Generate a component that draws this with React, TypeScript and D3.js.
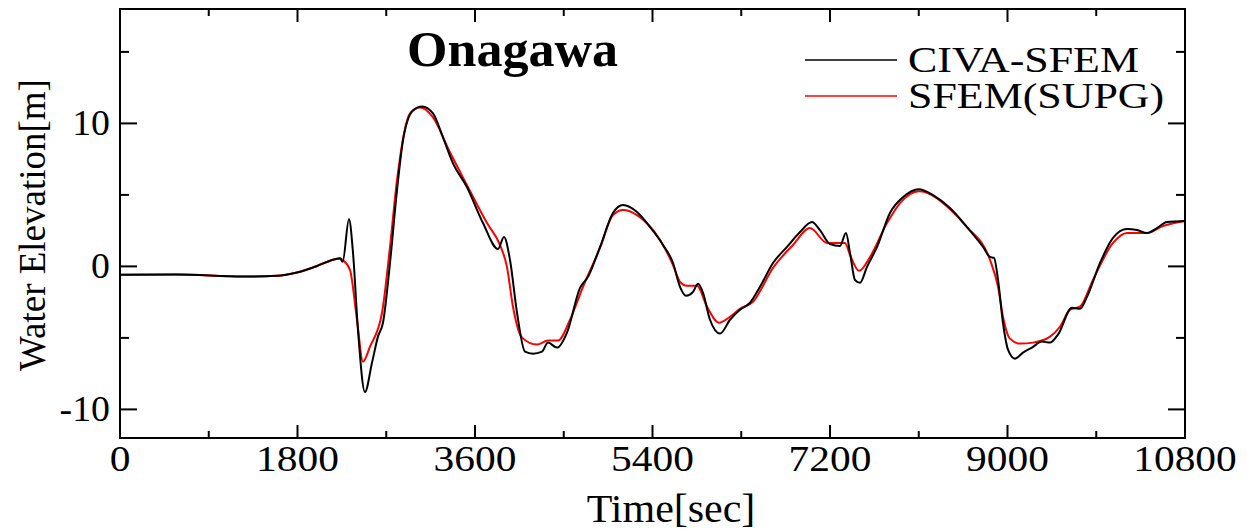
import * as d3 from "d3";

// CIVA-SFEM (black)
const civaTime = [0, 578, 1247, 1592, 1795, 1998, 2130, 2231, 2258, 2322, 2363, 2413, 2484, 2556, 2616, 2667, 2738, 2809, 2870, 2971, 3063, 3174, 3275, 3377, 3519, 3681, 3833, 3894, 3955, 4026, 4107, 4188, 4279, 4340, 4432, 4533, 4665, 4746, 4868, 4999, 5101, 5243, 5375, 5507, 5608, 5679, 5740, 5811, 5862, 5912, 5983, 6085, 6186, 6287, 6389, 6490, 6622, 6764, 6896, 7017, 7098, 7200, 7301, 7362, 7403, 7453, 7504, 7575, 7677, 7808, 7940, 8102, 8245, 8417, 8589, 8752, 8823, 8863, 8904, 8954, 9005, 9076, 9157, 9248, 9350, 9431, 9512, 9654, 9735, 9806, 9938, 10070, 10212, 10313, 10415, 10516, 10617, 10800];
const civaElev = [-0.58, -0.56, -0.71, -0.66, -0.43, 0.03, 0.4, 0.57, 0.33, 3.3, 0.94, -4.42, -8.78, -6.72, -4.91, -3.94, 0.24, 5.33, 8.82, 10.91, 11.19, 10.7, 9.02, 7.21, 5.54, 3.03, 1.22, 2.06, 0.45, -3.24, -5.96, -6.1, -5.96, -5.33, -5.68, -4.63, -1.5, -0.73, 1.36, 3.73, 4.29, 3.8, 2.75, 1.5, 0.24, -1.43, -2.06, -1.78, -1.22, -1.85, -3.73, -4.7, -3.73, -3.03, -2.54, -1.43, 0.24, 1.36, 2.4, 3.1, 2.54, 1.57, 1.43, 2.33, 0.94, -0.94, -1.15, -0.03, 1.36, 3.73, 4.84, 5.4, 4.98, 4.08, 2.75, 1.36, 0.66, 0.59, -0.94, -3.94, -5.82, -6.45, -6.03, -5.68, -5.26, -5.33, -4.77, -2.89, -2.96, -2.13, 0.24, 1.99, 2.61, 2.54, 2.33, 2.68, 3.1, 3.17];

// SFEM(SUPG) (red)
const supgTime = [0, 578, 1247, 1592, 1795, 1998, 2130, 2231, 2258, 2332, 2403, 2464, 2535, 2657, 2738, 2809, 2941, 3042, 3174, 3346, 3519, 3722, 3853, 3924, 3985, 4077, 4229, 4340, 4442, 4564, 4695, 4868, 4999, 5101, 5243, 5476, 5608, 5679, 5750, 5851, 5953, 6074, 6186, 6287, 6419, 6622, 6825, 6997, 7170, 7352, 7403, 7494, 7606, 7778, 7910, 8102, 8417, 8589, 8823, 8904, 8954, 9025, 9127, 9259, 9431, 9532, 9634, 9735, 9867, 10070, 10212, 10415, 10577, 10800];
const supgElev = [-0.58, -0.56, -0.71, -0.66, -0.43, 0.03, 0.4, 0.55, 0.45, -0.24, -3.73, -6.66, -5.61, -3.24, 1.36, 6.03, 10.7, 11.11, 10.42, 7.98, 5.68, 3.03, 1.5, -0.03, -2.82, -4.98, -5.47, -5.19, -5.19, -3.73, -1.43, 1.29, 3.59, 3.94, 3.59, 1.85, 0.1, -1.08, -1.36, -1.36, -2.82, -3.94, -3.52, -2.96, -2.47, -0.1, 1.5, 2.68, 1.64, 1.64, 0.8, -0.31, 0.66, 3.03, 4.43, 5.26, 4.0, 2.75, 0.45, -1.43, -3.52, -5.05, -5.4, -5.33, -4.91, -4.22, -3.03, -2.82, -0.94, 1.64, 2.33, 2.33, 2.82, 3.17];

const xTickValues = [0, 1800, 3600, 5400, 7200, 9000, 10800];
const yTickValues = [-10, 0, 10];
const seriesNames = ["CIVA-SFEM", "SFEM(SUPG)"];
const seriesColors = ["#000000", "#ff0000"];

const W = 1253;
const H = 530;
const box = { left: 120, right: 1185, top: 9, bottom: 438 };
const serif = "'Liberation Serif', 'Times New Roman', serif";

export default function App() {
  const x = d3.scaleLinear().domain([0, 10800]).range([box.left, box.right]);
  const y = d3.scaleLinear().domain([-12, 18]).range([box.bottom, box.top]);

  const line = d3
    .line<[number, number]>()
    .x((d) => x(d[0]))
    .y((d) => y(d[1]))
    .curve(d3.curveMonotoneX);

  const civa = civaTime.map((t, i) => [t, civaElev[i]] as [number, number]);
  const supg = supgTime.map((t, i) => [t, supgElev[i]] as [number, number]);

  const xMinor = d3.range(0, 10801, 900);
  const yMinor = d3.range(-10, 18, 5);

  return (
    <svg
      width={W}
      height={H}
      style={{ position: "absolute", left: 0, top: 0, background: "#fff" }}
    >
      <rect x={0} y={0} width={W} height={H} fill="#fff" />

      {/* data */}
      <path d={line(supg) || ""} fill="none" stroke={seriesColors[1]} strokeWidth={2} />
      <path d={line(civa) || ""} fill="none" stroke={seriesColors[0]} strokeWidth={2} />

      {/* frame */}
      <rect
        x={box.left}
        y={box.top}
        width={box.right - box.left}
        height={box.bottom - box.top}
        fill="none"
        stroke="#000"
        strokeWidth={2}
      />

      {/* x ticks */}
      {xMinor.map((t) => {
        const major = xTickValues.includes(t);
        const len = major ? 13 : 7;
        return (
          <g key={"xt" + t} stroke="#000" strokeWidth={2}>
            <line x1={x(t)} x2={x(t)} y1={box.bottom} y2={box.bottom - len} />
            <line x1={x(t)} x2={x(t)} y1={box.top} y2={box.top + len} />
          </g>
        );
      })}
      {/* y ticks */}
      {yMinor.map((v) => {
        const major = yTickValues.includes(v);
        const len = major ? 17 : 9;
        return (
          <g key={"yt" + v} stroke="#000" strokeWidth={2}>
            <line x1={box.left} x2={box.left + len} y1={y(v)} y2={y(v)} />
            <line x1={box.right} x2={box.right - len} y1={y(v)} y2={y(v)} />
          </g>
        );
      })}

      {/* tick labels */}
      {xTickValues.map((t) => (
        <text
          key={"xl" + t}
          transform={`translate(${x(t)},471) scale(1.15,1)`}
          textAnchor="middle"
          fontFamily={serif}
          fontSize={36}
          fill="#000"
        >
          {t}
        </text>
      ))}
      {yTickValues.map((v) => (
        <text
          key={"yl" + v}
          transform={`translate(110,${y(v) + 12}) scale(1.05,1)`}
          textAnchor="end"
          fontFamily={serif}
          fontSize={36}
          fill="#000"
        >
          {v}
        </text>
      ))}

      {/* axis titles */}
      <text
        transform={`translate(671,522) scale(1.05,1)`}
        textAnchor="middle"
        fontFamily={serif}
        fontSize={40}
        fill="#000"
      >
        Time[sec]
      </text>
      <text
        transform={`translate(45,225) rotate(-90)`}
        textAnchor="middle"
        fontFamily={serif}
        fontSize={37}
        fill="#000"
      >
        Water Elevation[m]
      </text>

      {/* title */}
      <text
        transform={`translate(407,66) scale(1.02,1)`}
        fontFamily={serif}
        fontWeight="bold"
        fontSize={51}
        fill="#000"
      >
        Onagawa
      </text>

      {/* legend */}
      {seriesNames.map((name, i) => (
        <g key={name}>
          <line
            x1={805}
            x2={897}
            y1={60 + i * 36}
            y2={60 + i * 36}
            stroke={seriesColors[i]}
            strokeWidth={1.5}
          />
          <text
            transform={`translate(908,${72 + i * 36}) scale(1.22,1)`}
            fontFamily={serif}
            fontSize={36}
            fill="#000"
          >
            {name}
          </text>
        </g>
      ))}
    </svg>
  );
}
